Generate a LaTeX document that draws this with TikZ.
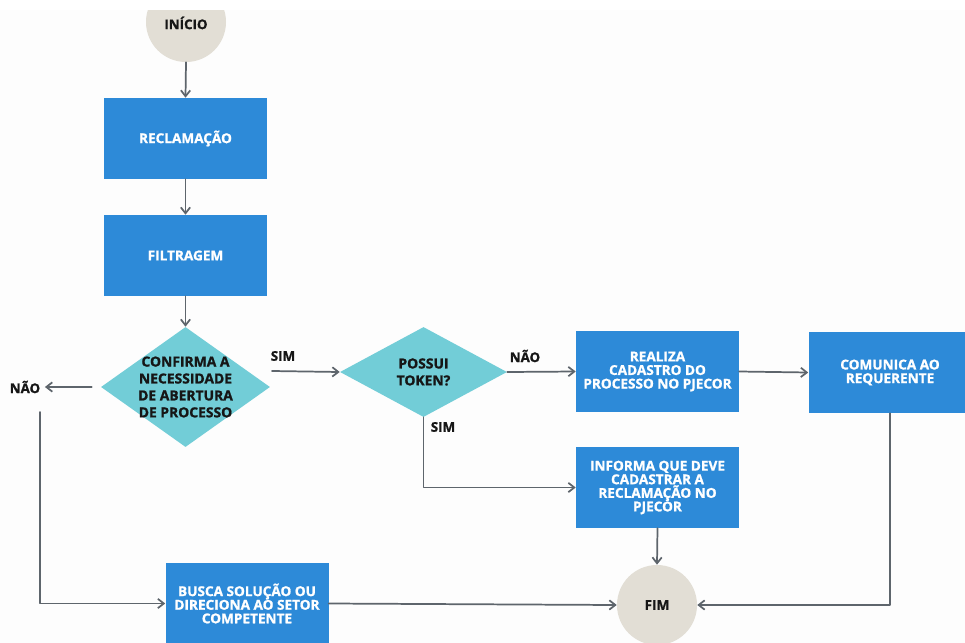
\documentclass[tikz,border=0pt]{standalone}
\usepackage{fontspec}
\setmainfont{Open Sans}[BoldFeatures={FakeBold=1.2}]
\usepackage{tikz}
\definecolor{boxblue}{HTML}{2D8AD8}
\definecolor{decteal}{HTML}{72CDD7}
\definecolor{endbeige}{HTML}{E2DED5}
\definecolor{linegray}{HTML}{5E656C}
\definecolor{ink}{HTML}{161616}
\definecolor{paper}{HTML}{FDFDFD}
\usetikzlibrary{
  arrows.meta,
  positioning,
  shapes.geometric
}
\tikzset{
  >={Straight Barb[length=4.5pt,width=7pt]},
  every picture/.style={line cap=round, line join=round},
  every node/.style={font=\bfseries\fontsize{10.2}{10.2}\selectfont, text=ink},
  block/.style={
    fill=boxblue,
    text=white,
    align=center,
    minimum width=122.25pt,
    minimum height=60.75pt,
    inner sep=2pt
  },
  terminal/.style={circle, fill=endbeige, minimum size=60pt, inner sep=0pt},
  decision/.style={diamond, fill=decteal, inner sep=0pt},
  dectext/.style={font=\bfseries\fontsize{10.4}{12.7}\selectfont, align=center, text=ink},
  arrow/.style={->, line width=1.3pt, draw=linegray},
  annot/.style={font=\bfseries\fontsize{10}{10}\selectfont, text=ink}
}

\begin{document}
\begin{tikzpicture}[x=0.75pt, y=-0.75pt]
  \clip (0,0) rectangle (965,643);
  \fill[paper] (0,0) rectangle (965,643);

  \node[terminal] (inicio) at (186,22) {};
  \node[block] (recl) at (185.5,138.5) {RECLAMAÇÃO};
  \node[block] (filtro) at (185.5,255.5) {FILTRAGEM};
  \node[decision, minimum width=126.75pt, minimum height=90pt,
        label={[dectext]center:CONFIRMA A\\NECESSIDADE\\DE ABERTURA\\DE PROCESSO}] (confirma) at (185.5,387) {};
  \node[decision, minimum width=125.25pt, minimum height=67.5pt,
        label={[dectext]center:POSSUI\\TOKEN?}] (token) at (423.5,372) {};
  \node[block] (realiza) at (657.5,371.5) {REALIZA\\CADASTRO DO\\PROCESSO NO PJECOR};
  \node[block] (comunica) at (890,372.5) {COMUNICA AO\\REQUERENTE};
  \node[block] (informa) at (657.5,487.5) {INFORMA QUE DEVE\\CADASTRAR A\\RECLAMAÇÃO NO\\PJECOR};
  \node[block] (busca) at (247,603.5) {BUSCA SOLUÇÃO OU\\DIRECIONA AO SETOR\\COMPETENTE};
  \node[terminal] (fim) at (657,605) {FIM};

  % covers the top of the start circle, as in the page
  \fill[white] (0,0) rectangle (965,10);
  \node[annot, anchor=north] (inicioTxt) at (186,12) {INÍCIO};

  \node[annot] (nao1) at (25,387) {NÃO};
  \node[annot] (sim1) at (283,356) {SIM};
  \node[annot] (nao2) at (525,356) {NÃO};
  \node[annot] (sim2) at (443,427) {SIM};
  \coordinate (simStart) at (272,371);
  \coordinate (naoDown) at (40,412);

  \draw[arrow] (inicio.south) -- (recl.north);
  \draw[arrow] (recl.south) -- (filtro.north);
  \draw[arrow] (filtro.south) -- (confirma.north);
  \draw[arrow, shorten <=6.75pt] (confirma.west) -- (nao1.east);
  \draw[arrow] (simStart) -- (token.west);
  \draw[arrow] (token.east) -- (realiza.west);
  \draw[arrow] (realiza.east) -- (comunica.west);
  \draw[arrow] (token.south) |- (informa.west);
  \draw[arrow] (informa.south) -- (fim.north);
  \draw[arrow] (naoDown) |- (busca.west);
  \draw[arrow] (busca.east) -- (fim.west);
  \draw[arrow] (comunica.south) |- (fim.east);
\end{tikzpicture}
\end{document}
